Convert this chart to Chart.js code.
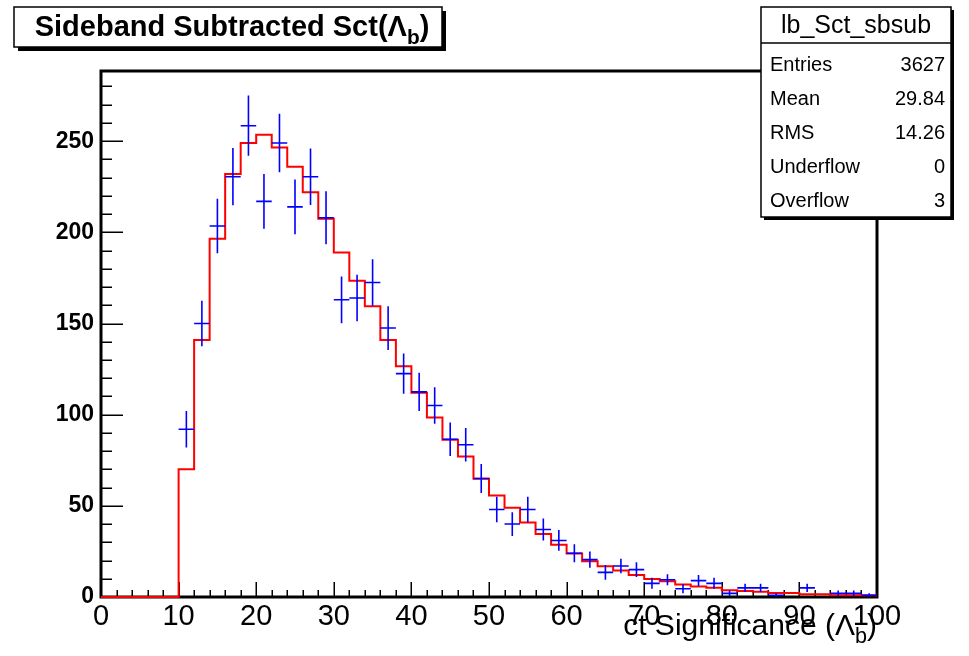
<!DOCTYPE html>
<html>
<head>
<meta charset="utf-8">
<script src="https://cdn.jsdelivr.net/npm/chart.js@4.4.1/dist/chart.umd.min.js"></script>
<style>
  html, body { margin: 0; padding: 0; background: #fff; }
  #wrap { width: 969px; height: 656px; }
</style>
</head>
<body>
<div id="wrap"><canvas id="mycanvas" width="969" height="656"></canvas></div>
<script>
// histogram bins (lower edges), width 2
var binLow = [0, 2, 4, 6, 8, 10, 12, 14, 16, 18, 20, 22, 24, 26, 28, 30, 32, 34, 36, 38,
              40, 42, 44, 46, 48, 50, 52, 54, 56, 58, 60, 62, 64, 66, 68, 70, 72, 74, 76, 78,
              80, 82, 84, 86, 88, 90, 92, 94, 96, 98];
var binWidth = 2;

// red histogram (fit / expectation)
var fitValues = [0, 0, 0, 0, 0, 70, 141, 196.5, 232, 249, 253.5, 246.5, 236, 222, 207.5, 189, 173.5, 159.5, 141, 126.5,
                 112, 98.5, 86.3, 77, 64.8, 55.7, 49, 40.8, 34.6, 28.6, 23.8, 19.6, 16.8, 14.5, 12.1, 9.9, 8.6, 6.8, 5.8, 5.1,
                 3.7, 3.3, 2.9, 2.2, 2.2, 1.5, 1.5, 1, 1, 1];

// blue points (sideband subtracted data) and their errors
var dataValues = [0, 0, 0, 0, 0, 92, 150, 203.5, 230.5, 258.5, 217, 249, 214, 230.5, 208, 163, 164, 172.5, 147.5, 122.5,
                  112.5, 105, 86.5, 83.5, 65, 48, 40, 48, 37, 31, 24, 20.5, 13.5, 17, 15, 7.5, 9.5, 4.5, 9, 7.5,
                  2, 5, 5, 1, 0, 5, 0, 2, 2, 1];
var dataErrors = [0, 0, 0, 0, 0, 10, 12.5, 15, 15.7, 16.5, 15, 16, 15, 15.5, 14.5, 12.8, 12.8, 12.8, 12, 11,
                  10.5, 10, 9.2, 9.2, 8, 7, 6.5, 7, 6, 5.7, 5, 4.5, 4, 4, 4, 3, 3, 2.5, 3, 3,
                  1.5, 2.2, 2.2, 1, 0, 2.2, 0, 1.5, 1.5, 1];

var xTicks = [0, 10, 20, 30, 40, 50, 60, 70, 80, 90, 100];
var yTicks = [0, 50, 100, 150, 200, 250];

var statNames = ['Entries', 'Mean', 'RMS', 'Underflow', 'Overflow'];
var statValues = ['3627', '29.84', '14.26', '0', '3'];
var histName = 'lb_Sct_sbsub';

var FONT = '"Liberation Sans", Arial, Helvetica, sans-serif';

var fitPoints = [];
for (var i = 0; i < binLow.length; i++) {
  fitPoints.push({x: binLow[i], y: fitValues[i]});
}
fitPoints.push({x: binLow[binLow.length - 1] + binWidth, y: fitValues[fitValues.length - 1]});

var dataPoints = [];
for (var j = 0; j < binLow.length; j++) {
  if (dataValues[j] > 0) {
    dataPoints.push({x: binLow[j] + binWidth / 2, y: dataValues[j], err: dataErrors[j]});
  }
}

// text with a subscript part
function drawRich(ctx, parts, x, y, size, weight, align) {
  var w = 0;
  parts.forEach(function(p) {
    ctx.font = weight + ' ' + (p.sub ? size * 0.72 : size) + 'px ' + FONT;
    p.w = ctx.measureText(p.t).width;
    w += p.w;
  });
  var cx = align === 'right' ? x - w : (align === 'center' ? x - w / 2 : x);
  ctx.textAlign = 'left';
  ctx.textBaseline = 'alphabetic';
  parts.forEach(function(p) {
    ctx.font = weight + ' ' + (p.sub ? size * 0.72 : size) + 'px ' + FONT;
    ctx.fillText(p.t, cx, p.sub ? y + size * 0.28 : y);
    cx += p.w;
  });
}

var frameAndTicks = {
  id: 'frameAndTicks',
  beforeDatasetsDraw: function(chart) {
    var ctx = chart.ctx, a = chart.chartArea;
    var xs = chart.scales.x, ys = chart.scales.y;
    ctx.save();
    ctx.strokeStyle = '#000';
    ctx.lineWidth = 1.5;
    ctx.beginPath();
    for (var v = 0; v <= ys.max; v += 10) {
      var py = Math.round(ys.getPixelForValue(v)) + 0.25;
      ctx.moveTo(a.left, py);
      ctx.lineTo(a.left + (v % 50 === 0 ? 22 : 11), py);
    }
    for (var u = 0; u <= xs.max; u += 2) {
      var px = Math.round(xs.getPixelForValue(u)) + 0.25;
      ctx.moveTo(px, a.bottom);
      ctx.lineTo(px, a.bottom - (u % 10 === 0 ? 15 : 7));
    }
    ctx.stroke();
    ctx.lineWidth = 3;
    ctx.strokeRect(a.left, a.top, a.right - a.left, a.bottom - a.top);
    ctx.restore();
  }
};

var errorBars = {
  id: 'errorBars',
  afterDatasetsDraw: function(chart) {
    var ctx = chart.ctx;
    var xs = chart.scales.x, ys = chart.scales.y;
    ctx.save();
    ctx.strokeStyle = '#0000ff';
    ctx.lineWidth = 1.6;
    ctx.beginPath();
    chart.data.datasets[0].data.forEach(function(p) {
      var px = xs.getPixelForValue(p.x);
      var py = ys.getPixelForValue(p.y);
      ctx.moveTo(xs.getPixelForValue(p.x - binWidth / 2), py);
      ctx.lineTo(xs.getPixelForValue(p.x + binWidth / 2), py);
      ctx.moveTo(px, ys.getPixelForValue(p.y + p.err));
      ctx.lineTo(px, ys.getPixelForValue(Math.max(0, p.y - p.err)));
    });
    ctx.stroke();
    ctx.restore();
  }
};

var boxes = {
  id: 'boxes',
  afterDraw: function(chart) {
    var ctx = chart.ctx;
    ctx.save();
    ctx.fillStyle = '#000';

    // title box with shadow
    ctx.fillRect(18, 11, 428, 40);
    ctx.fillStyle = '#fff';
    ctx.fillRect(14, 7, 428, 40);
    ctx.strokeStyle = '#000';
    ctx.lineWidth = 1.5;
    ctx.strokeRect(14, 7, 428, 40);
    ctx.fillStyle = '#000';
    drawRich(ctx, [{t: 'Sideband Subtracted Sct('}, {t: '\u039B'}, {t: 'b', sub: true}, {t: ')'}],
             232, 36, 29, 'bold', 'center');

    // stats box with shadow
    ctx.fillRect(764, 10, 190, 210);
    ctx.fillStyle = '#fff';
    ctx.fillRect(761, 7, 190, 210);
    ctx.strokeRect(761, 7, 190, 210);
    ctx.beginPath();
    ctx.moveTo(761, 43);
    ctx.lineTo(951, 43);
    ctx.stroke();
    ctx.fillStyle = '#000';
    ctx.font = '25px ' + FONT;
    ctx.textAlign = 'center';
    ctx.textBaseline = 'middle';
    ctx.fillText(histName, 856, 26);
    ctx.font = '20px ' + FONT;
    ctx.textBaseline = 'alphabetic';
    for (var k = 0; k < statNames.length; k++) {
      var by = 71 + k * 34;
      ctx.textAlign = 'left';
      ctx.fillText(statNames[k], 770, by);
      ctx.textAlign = 'right';
      ctx.fillText(statValues[k], 945, by);
    }

    // x axis title
    drawRich(ctx, [{t: 'ct Significance ('}, {t: '\u039B'}, {t: 'b', sub: true}, {t: ')'}],
             877, 635, 30, 'normal', 'right');
    ctx.restore();
  }
};

var ctx = document.getElementById('mycanvas');

var chart = new Chart(ctx, {
  type: 'line',
  data: {
    datasets: [
      {
        label: 'data',
        data: dataPoints,
        showLine: false,
        pointRadius: 0,
        borderColor: '#0000ff'
      },
      {
        label: 'fit',
        data: fitPoints,
        stepped: 'before',
        borderColor: '#ff0000',
        borderWidth: 2,
        pointRadius: 0,
        fill: false,
        clip: false
      }
    ]
  },
  options: {
    responsive: false,
    devicePixelRatio: 1,
    animation: false,
    layout: { padding: { left: 0, top: 71, right: 92, bottom: 0 } },
    plugins: {
      legend: { display: false },
      title: { display: false },
      tooltip: { enabled: false }
    },
    scales: {
      x: {
        type: 'linear',
        min: 0,
        max: 100,
        grid: { display: false, drawTicks: false },
        border: { display: false },
        afterBuildTicks: function(scale) {
          scale.ticks = xTicks.map(function(v) { return {value: v}; });
        },
        afterFit: function(scale) { scale.height = 59; },
        ticks: {
          padding: 3,
          maxRotation: 0,
          autoSkip: false,
          color: '#000',
          font: { family: FONT, size: 29 }
        }
      },
      y: {
        type: 'linear',
        min: 0,
        max: 288.5,
        grid: { display: false, drawTicks: false },
        border: { display: false },
        afterBuildTicks: function(scale) {
          scale.ticks = yTicks.map(function(v) { return {value: v}; });
        },
        afterFit: function(scale) { scale.width = 101; },
        ticks: {
          padding: 7,
          color: '#000',
          font: { family: FONT, size: 23, weight: 'bold' }
        }
      }
    }
  },
  plugins: [frameAndTicks, errorBars, boxes]
});
</script>
</body>
</html>
